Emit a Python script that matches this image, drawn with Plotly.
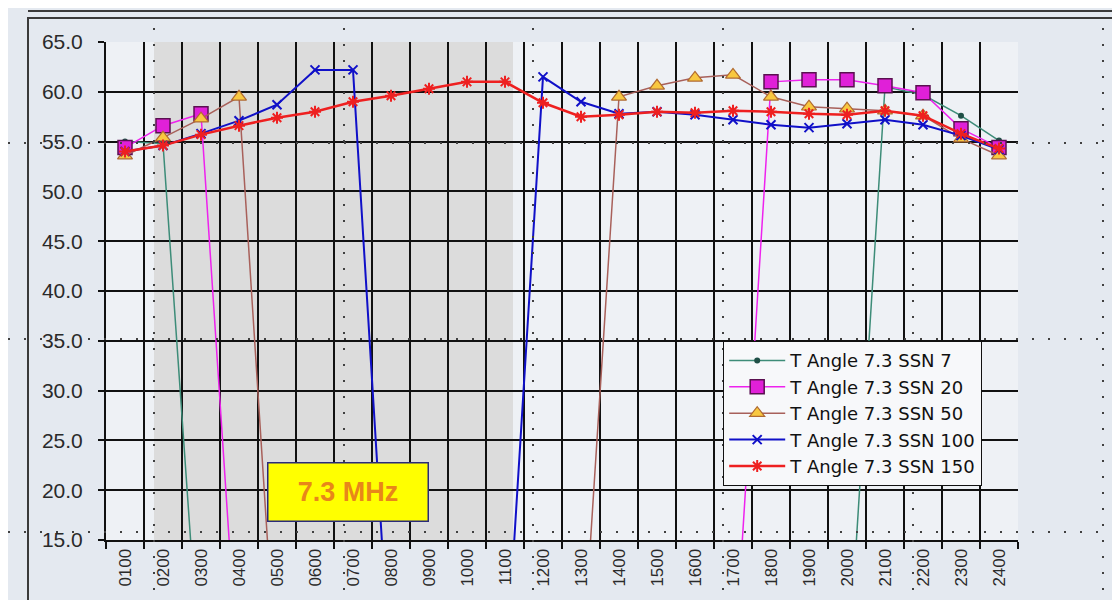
import plotly.graph_objects as go

hours = ["0100", "0200", "0300", "0400", "0500", "0600", "0700", "0800",
         "0900", "1000", "1100", "1200", "1300", "1400", "1500", "1600",
         "1700", "1800", "1900", "2000", "2100", "2200", "2300", "2400"]

# take-off angle, 0 = no path that hour
ssn7 = [55.0, 54.8] + [0] * 18 + [60.5, 59.7, 57.6, 55.1]
ssn20 = [54.4, 56.6, 57.8] + [0] * 14 + [61.0, 61.2, 61.2, 60.6, 59.9, 56.3, 54.4]
ssn50 = [53.6, 55.4, 57.3, 59.5] + [0] * 9 + [59.5, 60.6, 61.4, 61.7, 59.5, 58.5,
                                              58.3, 58.1, 57.6, 55.3, 53.6]
ssn100 = [54.0, 54.6, 55.8, 57.1, 58.7, 62.2, 62.2] + [0] * 4 + [61.5, 59.0, 57.8, 58.0,
                                                                   57.7, 57.2, 56.7, 56.4,
                                                                   56.8, 57.2, 56.7, 55.6, 54.2]
ssn150 = [54.0, 54.6, 55.7, 56.6, 57.4, 58.0, 59.0, 59.6, 60.3, 61.0, 61.0, 58.9,
          57.5, 57.7, 58.0, 57.9, 58.1, 58.0, 57.8, 57.7, 58.1, 57.6, 55.8, 54.3]

FONT = "Arial, Liberation Sans, sans-serif"

fig = go.Figure()

fig.add_trace(go.Scatter(
    x=hours, y=ssn7, mode="lines+markers", name="T Angle 7.3 SSN 7",
    line=dict(color="#3d8c78", width=1.5),
    marker=dict(symbol="circle", size=6, color="#1f4f46"),
))
fig.add_trace(go.Scatter(
    x=hours, y=ssn20, mode="lines+markers", name="T Angle 7.3 SSN 20",
    line=dict(color="#ee22ee", width=1.5),
    marker=dict(symbol="square", size=14, color="#e020d8",
                line=dict(color="#5a1050", width=1.5)),
))
fig.add_trace(go.Scatter(
    x=hours, y=ssn50, mode="lines+markers", name="T Angle 7.3 SSN 50",
    line=dict(color="#a8605a", width=1.5),
    marker=dict(symbol="triangle-up", size=13, color="#f8c840",
                line=dict(color="#b06a30", width=1.2)),
))
fig.add_trace(go.Scatter(
    x=hours, y=ssn100, mode="lines+markers", name="T Angle 7.3 SSN 100",
    line=dict(color="#1010c8", width=2),
    marker=dict(symbol="x-thin-open", size=9, color="#1010c8",
                line=dict(color="#1010c8", width=2)),
))
fig.add_trace(go.Scatter(
    x=hours, y=ssn150, mode="lines+markers", name="T Angle 7.3 SSN 150",
    line=dict(color="#ee2020", width=2.5),
    marker=dict(symbol="asterisk-open", size=10, color="#ee2020",
                line=dict(color="#ee2020", width=2)),
))


def px_x(p):
    return (p - 98) / 912


def px_y(p):
    return (532 - p) / 498


shapes = [
    # night shading behind the grid
    dict(type="rect", xref="paper", yref="paper", layer="below",
         x0=px_x(146), x1=px_x(505), y0=0, y1=1,
         fillcolor="#dcdcdc", line=dict(width=0)),
    # outer frame of the picture
    dict(type="rect", xref="paper", yref="paper",
         x0=px_x(20), x1=px_x(1110), y0=px_y(598), y1=px_y(10),
         line=dict(color="#3a3a3a", width=2)),
    dict(type="line", xref="paper", yref="paper",
         x0=px_x(20), x1=px_x(1110), y0=px_y(3), y1=px_y(3),
         line=dict(color="#3a3a3a", width=2)),
]
# dotted overlay grid of the background picture
for vx in [146, 336, 525, 715, 905, 1095]:
    shapes.append(dict(type="line", xref="paper", yref="paper",
                       x0=px_x(vx), x1=px_x(vx), y0=px_y(598), y1=px_y(12),
                       line=dict(color="#404040", width=2, dash="2px,14px")))
for hy in [135, 331, 524]:
    shapes.append(dict(type="line", xref="paper", yref="paper",
                       x0=px_x(0), x1=px_x(1110), y0=px_y(hy), y1=px_y(hy),
                       line=dict(color="#404040", width=2, dash="2px,14px")))

fig.update_layout(
    width=1120, height=600,
    margin=dict(l=98, r=110, t=34, b=68),
    paper_bgcolor="#e4e9f0",
    plot_bgcolor="#eef1f5",
    font=dict(family=FONT, color="#2a2a2a"),
    shapes=shapes,
    showlegend=True,
    legend=dict(
        x=px_x(715), y=px_y(333), xanchor="left", yanchor="top",
        bgcolor="#f7f8fa", bordercolor="#111111", borderwidth=1.2,
        font=dict(size=18, family="DejaVu Sans, Arial, sans-serif", color="#111111"),
        itemwidth=56, tracegroupgap=0,
    ),
    annotations=[dict(
        text="<b>7.3 MHz</b>", xref="paper", yref="paper",
        x=px_x(340), y=px_y(484), xanchor="center", yanchor="middle",
        showarrow=False, bgcolor="#ffff00", bordercolor="#2a2a7a",
        borderwidth=1.5, width=157, height=55,
        font=dict(size=27, color="#e8861a", family=FONT),
    )],
)

fig.update_xaxes(
    type="category", tickson="boundaries", ticks="outside", ticklen=7,
    tickcolor="#111111", tickwidth=2,
    showgrid=True, gridcolor="#111111", gridwidth=2,
    showline=True, linecolor="#111111", linewidth=2, mirror=False,
    tickangle=-90, tickfont=dict(size=17, family=FONT, color="#2a2a2a"),
    range=[-0.5, 23.5],
)
fig.update_yaxes(
    range=[15, 65], dtick=5, tickformat=".1f",
    ticks="outside", ticklen=6, tickcolor="#111111", tickwidth=2,
    ticklabelstandoff=11,
    showgrid=True, gridcolor="#111111", gridwidth=2,
    showline=True, linecolor="#111111", linewidth=2,
    zeroline=False,
    tickfont=dict(size=21, family=FONT, color="#2a2a2a"),
)

fig.write_html("out.html")
